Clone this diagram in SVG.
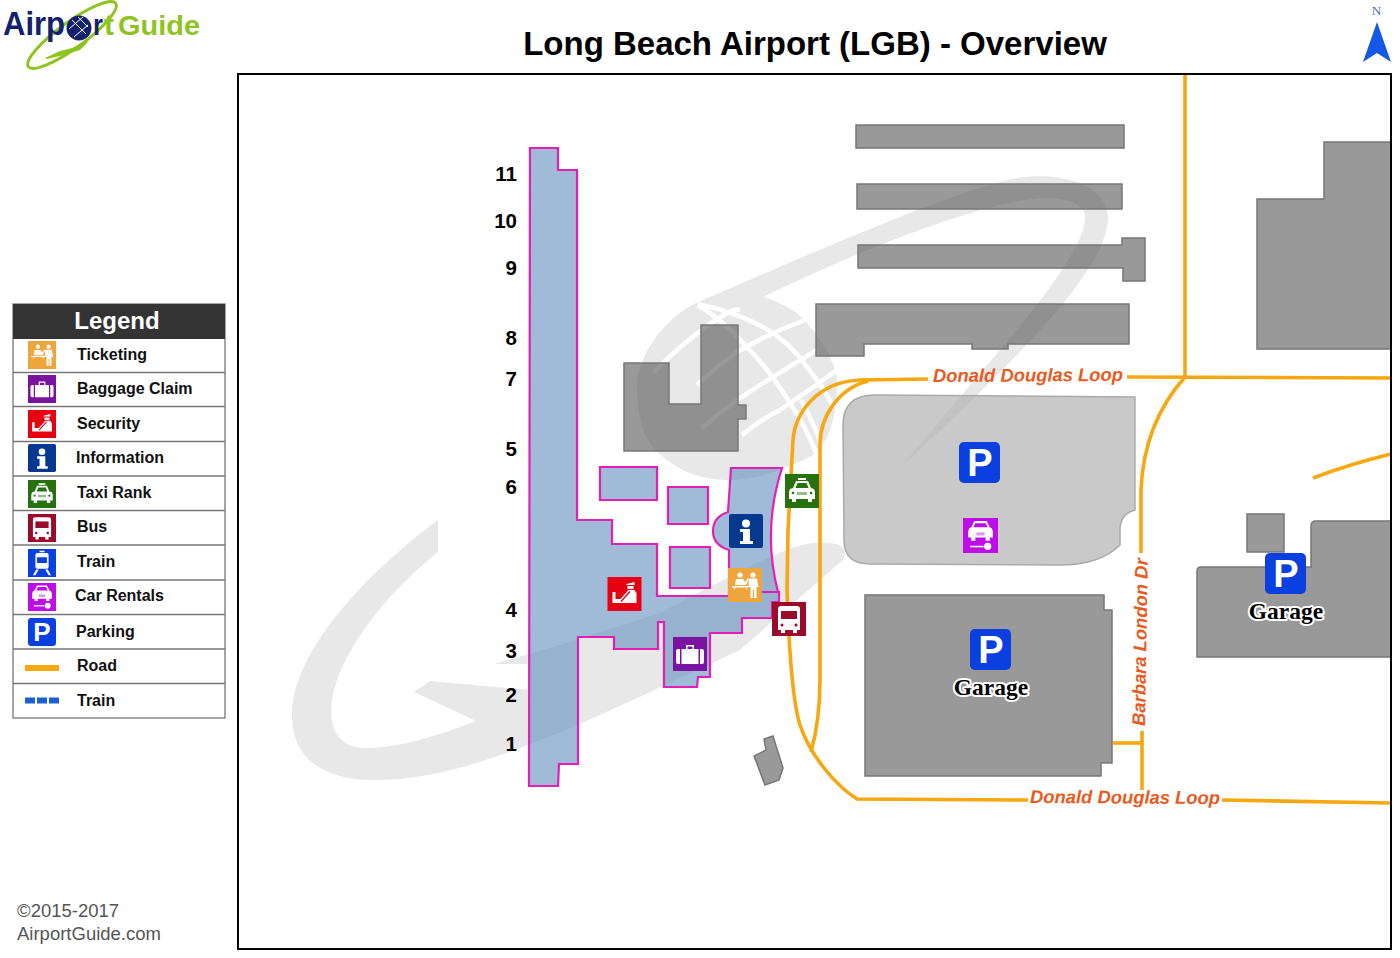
<svg xmlns="http://www.w3.org/2000/svg" width="1400" height="958" viewBox="0 0 1400 958">
<style>
text{font-family:"Liberation Sans",Arial,sans-serif}
.b{fill:#555;fill-opacity:.6;stroke:#777;stroke-width:1.500}
.t{fill:#5f8ebe;fill-opacity:.6;stroke:#e51fb5;stroke-width:2.200;stroke-linejoin:miter}
.r{fill:none;stroke:#f7a70f;stroke-width:3.600}
.rl{fill:#ea5a1e;font-weight:bold;font-style:italic;font-size:18.400px}
.n{font-weight:bold;font-size:20.500px;text-anchor:end;fill:#000}
.l{font-weight:bold;font-size:16px;fill:#111}
.sep{stroke:#777;stroke-width:1.300}
.g{font-family:"Liberation Serif","Times New Roman",serif;font-weight:bold;font-size:23.500px;text-anchor:middle;fill:#000;stroke:#fff;stroke-width:4;paint-order:stroke;stroke-linejoin:round}
.p{font-weight:bold;fill:#fff;text-anchor:middle}
.w{fill:#fff}
.wm{fill:#e8e8e8}
.gl{fill:none;stroke:#fff;stroke-width:4.500}
</style>
<defs>
<symbol id="ticket" viewBox="0 0 34 34"><rect width="34" height="34" fill="#eda53c"/><circle cx="25" cy="7" r="2.600" class="w"/><circle cx="12" cy="7" r="2.600" class="w"/><path class="w" d="M21 10.500h8l1.500 8.500h-2v11h-2.500v-8h-1v8h-2.500v-11h-2zM8 11h7l2 3 3-4 1 1-3 6H7zM4 18h17v1.500H19v2h-1v-2H7v2H6v-2H4z"/></symbol>
<symbol id="bag" viewBox="0 0 34 34"><rect width="34" height="34" fill="#7a14a0"/><path class="w" d="M5 12h2v15H5a2 2 0 0 1-2-2V14a2 2 0 0 1 2-2zM8.500 12h17v15h-17zM27 12h2a2 2 0 0 1 2 2v11a2 2 0 0 1-2 2h-2zM13 12V8h8v4h-1.500V9.500h-5V12z"/></symbol>
<symbol id="sec" viewBox="0 0 34 34"><rect width="34" height="34" fill="#e60012"/><path class="w" d="M19 7l8-2 0 3h-8zM20 9h6v3h-6zM5 15h3v7h5l8-9h6l2 3v10H5v-1zM17 22l5-5 1 1-4 4zM24 18l2 0v4h-4z"/><path d="M13 24l9-10 1 1-9 10z" fill="#e60012"/></symbol>
<symbol id="info" viewBox="0 0 34 34"><rect width="34" height="34" rx="2" fill="#06388f"/><circle cx="17" cy="9.500" r="4" class="w"/><path class="w" d="M11 15h10v12h3v3H11v-3h3V18h-3z"/></symbol>
<symbol id="taxi" viewBox="0 0 34 34"><rect width="34" height="34" fill="#27720e"/><path class="w" d="M13 4h8v2h-8zM11 7h12l3 7 3 1 1 3v7h-3v3h-4v-3H11v3H7v-3H4v-7l1-3 3-1zM12.500 9l-2 5h13l-2-5z"/><rect x="12" y="18" width="10" height="3" fill="#9abd90"/><circle cx="8" cy="19" r="1.300" fill="#27720e"/><circle cx="26" cy="19" r="1.300" fill="#27720e"/></symbol>
<symbol id="bus" viewBox="0 0 34 34"><rect width="34" height="34" fill="#990a2c"/><path class="w" d="M9 4h16a3 3 0 0 1 3 3v21h-3v3h-4v-3h-8v3H9v-3H6V7a3 3 0 0 1 3-3z"/><path d="M9 9h16v8H9z" fill="#990a2c"/><circle cx="10" cy="23" r="1.500" fill="#990a2c"/><circle cx="24" cy="23" r="1.500" fill="#990a2c"/></symbol>
<symbol id="train" viewBox="0 0 34 34"><rect width="34" height="34" fill="#0a3fe0"/><path class="w" d="M14 2h6v2h-6zM11 5h12a2 2 0 0 1 2 2v15a2 2 0 0 1-2 2H11a2 2 0 0 1-2-2V7a2 2 0 0 1 2-2z"/><path d="M11 10h12v7H11z" fill="#0a3fe0"/><path class="w" d="M10 25h3l-4 7H6zM21 25h3l4 7h-3z"/></symbol>
<symbol id="car" viewBox="0 0 34 34"><rect width="34" height="34" fill="#bd0eea"/><path class="w" d="M11 3h12l3 6 2 1 1 3v6h-3v3h-4v-3H12v3H8v-3H5v-6l1-3 2-1zM12 5l-2 4h14l-2-4z"/><rect x="13" y="14" width="8" height="3" fill="#d79be8"/><path class="w" d="M7 27h13v1.500H7z"/><circle cx="24" cy="27.500" r="3.500" class="w"/></symbol>
<symbol id="pk" viewBox="0 0 34 34"><rect width="34" height="34" rx="4" fill="#0a3fe0"/></symbol>
</defs>

<rect width="1400" height="958" fill="#fff"/>

<g id="logo">
<ellipse cx="72" cy="35" rx="54" ry="13" fill="none" stroke="#8fc31f" stroke-width="3" transform="rotate(-36 72 35)"/>
<path d="M45 58l15-7 12-3 14-7 2 1-8 8-16 5-17 4z" fill="#8fc31f"/>
<text x="3" y="35" font-size="34" font-weight="bold" fill="#14216e" textLength="62" lengthAdjust="spacingAndGlyphs">Airp</text>
<circle cx="79" cy="28" r="12.500" fill="#14216e"/>
<path d="M72 20l14 14M78 17l10 10M69 29l14-12M74 37l14-12" stroke="#fff" stroke-width="1" fill="none"/>
<text x="93" y="35" font-size="30" font-weight="bold" fill="#14216e" textLength="10" lengthAdjust="spacingAndGlyphs">r</text>
<text x="104" y="35" font-size="30" font-weight="bold" fill="#8fc31f" textLength="10" lengthAdjust="spacingAndGlyphs">t</text>
<text x="118" y="35" font-size="27" font-weight="bold" fill="#8fc31f" textLength="82" lengthAdjust="spacingAndGlyphs">Guide</text>
</g>

<text id="title" x="815" y="55" font-size="33" font-weight="bold" text-anchor="middle" fill="#000">Long Beach Airport (LGB) - Overview</text>

<g id="north">
<text x="1376.500" y="15" font-size="13" text-anchor="middle" fill="#4a6fc0" style="font-family:'Liberation Serif',serif">N</text>
<path d="M1377 22l14 40-14-9-14 9z" fill="#1557e6"/>
</g>

<g id="legend">
<rect x="13" y="304" width="212" height="414" fill="#fff" stroke="#777" stroke-width="1.300"/>
<rect x="13" y="304" width="212" height="35" fill="#333"/>
<text x="117" y="329" font-size="24" font-weight="bold" fill="#fff" text-anchor="middle">Legend</text>
<path class="sep" d="M13 372.500H225M13 406.500H225M13 441.500H225M13 476H225M13 510.500H225M13 545H225M13 580H225M13 614.500H225M13 649H225M13 683.500H225"/>
<use href="#ticket" x="28" y="341" width="28" height="28"/><text class="l" x="77" y="360">Ticketing</text>
<use href="#bag" x="28" y="375" width="28" height="28"/><text class="l" x="77" y="394">Baggage Claim</text>
<use href="#sec" x="28" y="410" width="28" height="28"/><text class="l" x="77" y="429">Security</text>
<use href="#info" x="28" y="444" width="28" height="28"/><text class="l" x="76" y="463">Information</text>
<use href="#taxi" x="28" y="480" width="28" height="28"/><text class="l" x="77" y="498">Taxi Rank</text>
<use href="#bus" x="28" y="514" width="28" height="28"/><text class="l" x="77" y="532">Bus</text>
<use href="#train" x="28" y="549" width="28" height="28"/><text class="l" x="77" y="567">Train</text>
<use href="#car" x="28" y="583" width="28" height="28"/><text class="l" x="75" y="601">Car Rentals</text>
<use href="#pk" x="28" y="618" width="28" height="28"/><text class="p" x="42" y="641" font-size="26">P</text><text class="l" x="76" y="637">Parking</text>
<rect x="25" y="665" width="34" height="6" fill="#f7a70f"/><text class="l" x="77" y="671">Road</text>
<path d="M25 700.500H59" stroke="#1f5fd6" stroke-width="6" stroke-dasharray="10 2"/><text class="l" x="77" y="706">Train</text>
</g>

<text id="copy1" x="17" y="917" font-size="18.500" fill="#555">©2015-2017</text>
<text id="copy2" x="17" y="940" font-size="18.500" fill="#555">AirportGuide.com</text>

<g id="watermark">
<path class="wm" d="M438 520C370 570 292 650 292 715C292 770 340 781 380 780C470 778 570 730 740 650L843 560Q850 545 830 543C800 540 780 550 660 613L560 645L494 664L530 664L530 690L430 681L414 692L476 721C440 735 400 748 365 748C340 748 328 730 332 700C340 650 390 590 438 552z"/>
<path class="wm" d="M696 303L800 258C880 225 960 190 1017 178C1070 170 1108 190 1108 217C1108 260 1050 330 900 468C990 360 1085 260 1085 217C1085 205 1070 197 1040 198C970 205 850 255 763 297z"/>
<path class="wm" d="M696 303C665 318 637 355 637 387C637 420 645 440 657 452C680 472 700 480 730 480C755 480 790 468 817 453C830 440 838 410 837 377C830 350 815 330 797 313C785 305 770 298 763 297C740 296 715 298 696 303z"/>
<path class="gl" d="M698 305Q725 322 743 343Q770 370 790 403Q805 425 817 455"/>
<path class="gl" d="M698 304Q735 312 763 327Q790 342 807 367Q822 385 834 408"/>
<path class="gl" d="M801 400Q818 430 830 470" stroke-width="3"/>
<path class="gl" d="M653 373Q690 335 727 313Q733 310 740 309"/>
<path class="gl" d="M697 385Q715 368 737 352Q770 333 805 320"/>
<path class="gl" d="M702 428Q720 412 740 398Q780 372 817 350"/>
<path class="gl" d="M742 435Q760 420 780 410Q810 390 837 370"/>
</g>

<g id="buildings">
<path id="bldg-1" class="b" d="M856 125H1124V148H856z"/>
<path id="bldg-2" class="b" d="M857 184H1122V209H857z"/>
<path id="bldg-3" class="b" d="M858 245H1122V238H1145V281H1123V268H858z"/>
<path id="bldg-4" class="b" d="M816 304H1129V344H1008V349H972V344H864V356H816z"/>
<path id="bldg-5" class="b" d="M624 363H669V404H701V325H738V405H746V419H738V451H624z"/>
<path id="bldg-6" class="b" d="M773 736L783 768L779 780L765 785L754 756L766 750L764 739z"/>
<path id="bldg-7" class="b" d="M1257 199H1324V142H1391V349H1257z"/>
<path id="lot" d="M1135 397V510Q1120 514 1120 530V545Q1100 565 1060 565L870 564Q844 564 844 540L843 425Q843 395 875 395z" fill="#b2b2b2" fill-opacity=".7" stroke="#aaa" stroke-width="1.500"/>
<path id="garage-1-shape" class="b" d="M865 595H1104V610H1112V763H1101V776H865z"/>
<path id="garage-2-annex" class="b" d="M1247 514H1284V552H1247z"/>
<path id="garage-2-shape" class="b" d="M1197 571Q1197 567 1201 567H1311V526Q1311 521 1316 521H1391V657H1197z"/>
</g>

<g id="terminal">
<path class="t" d="M530 148H558V170H577V520H612V544H657V596H729V592H779V602H772V618H742V633H710V677H698L697 687H664V622H658V649H614V637H578V764H559L558 786H529z"/>
<path class="t" d="M600 467H657V500H600z"/>
<path class="t" d="M668 487H708V524H668z"/>
<path class="t" d="M670 547H710V588H670z"/>
<path class="t" d="M731 468H782Q762 530 778 592H729V550Q713 545 713 531Q713 517 728 512z"/>
</g>

<g id="connectors">
<path class="r" d="M1185 74V377"/>
<path class="r" d="M928 379L860 380C815 382 795 415 793 440L788 530L787 590C789 650 792 700 800 725C810 755 835 785 857 799L1028 800"/>
<path class="r" d="M868 381C840 388 820 415 820 445V680Q820 720 811 752"/>
<path class="r" d="M1127 377L1391 378"/>
<path class="r" d="M1185 377C1160 405 1143 440 1141 490L1141 553"/>
<path class="r" d="M1142 731V790"/>
<path class="r" d="M1113 743H1142"/>
<path class="r" d="M1222 800L1391 803"/>
<path class="r" d="M1313 478Q1350 464 1391 454"/>
</g>

<g id="road-labels">
<text class="rl" x="933" y="382" transform="rotate(-0.300 933 382)">Donald Douglas Loop</text>
<text class="rl" x="1030" y="803" transform="rotate(0.300 1030 803)">Donald Douglas Loop</text>
<text class="rl" transform="translate(1145 726) rotate(-89)">Barbara London Dr</text>
</g>

<g id="gates">
<text class="n" x="517" y="181">11</text>
<text class="n" x="517" y="228">10</text>
<text class="n" x="517" y="275">9</text>
<text class="n" x="517" y="345">8</text>
<text class="n" x="517" y="386">7</text>
<text class="n" x="517" y="456">5</text>
<text class="n" x="517" y="494">6</text>
<text class="n" x="517" y="617">4</text>
<text class="n" x="517" y="658">3</text>
<text class="n" x="517" y="702">2</text>
<text class="n" x="517" y="751">1</text>
</g>

<g id="node-info"><use href="#info" x="729" y="514" width="34" height="34"/></g>
<g id="node-ticketing"><use href="#ticket" x="728" y="568" width="34" height="34"/></g>
<g id="node-security"><use href="#sec" x="607" y="577" width="35" height="34"/></g>
<g id="node-baggage"><use href="#bag" x="673" y="637" width="34" height="34"/></g>
<g id="node-bus"><use href="#bus" x="772" y="602" width="34" height="34"/></g>
<g id="node-taxi"><use href="#taxi" x="785" y="474" width="34" height="34"/></g>
<g id="node-car"><use href="#car" x="963" y="518" width="35" height="35"/></g>
<g id="node-parking-lot"><use href="#pk" x="959" y="442" width="41" height="41"/><text class="p" x="980" y="476" font-size="38">P</text></g>
<g id="node-garage-1"><use href="#pk" x="970" y="629" width="41" height="41"/><text class="p" x="991" y="663" font-size="38">P</text><text class="g" x="991" y="695">Garage</text></g>
<g id="node-garage-2"><use href="#pk" x="1265" y="553" width="41" height="41"/><text class="p" x="1286" y="587" font-size="38">P</text><text class="g" x="1286" y="619">Garage</text></g>

<rect id="frame" x="238" y="74" width="1153" height="875" fill="none" stroke="#000" stroke-width="2"/>
</svg>
